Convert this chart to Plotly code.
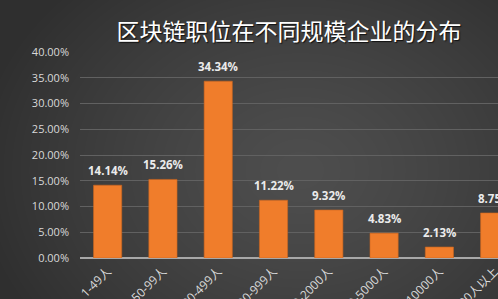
import base64
import struct
import zlib

import numpy as np
import plotly.graph_objects as go

# Company-size buckets and share of blockchain job postings (%)
categories = ["1-49人", "50-99人", "100-499人", "500-999人",
              "1000-2000人", "2000-5000人", "5000-10000人", "10000人以上"]
shares = [14.14, 15.26, 34.34, 11.22, 9.32, 4.83, 2.13, 8.75]
y_ticks = [0, 5, 10, 15, 20, 25, 30, 35, 40]

W, H = 498, 299
ML, MR, MT, MB = 80, 0, 52, 41
PW, PH = W - ML - MR, H - MT - MB


def gray_png_uri(arr):
    """Encode a 2-D uint8 array as a grayscale PNG data URI."""
    h, w = arr.shape
    raw = b"".join(b"\x00" + arr[r].tobytes() for r in range(h))

    def chunk(tag, data):
        c = struct.pack(">I", len(data)) + tag + data
        return c + struct.pack(">I", zlib.crc32(tag + data) & 0xFFFFFFFF)

    png = b"\x89PNG\r\n\x1a\n"
    png += chunk(b"IHDR", struct.pack(">IIBBBBB", w, h, 8, 0, 0, 0, 0))
    png += chunk(b"IDAT", zlib.compress(raw, 9))
    png += chunk(b"IEND", b"")
    return "data:image/png;base64," + base64.b64encode(png).decode()


# soft radial backdrop: lighter toward the middle, darker at the corners
yy, xx = np.mgrid[0:H, 0:W].astype(float)
d = np.sqrt(((xx - 300) / 330) ** 2 + ((yy - 170) / 260) ** 2)
bg = 78 - 31 * np.clip(d, 0, 1) ** 1.3
bg = np.clip(bg, 0, 255).astype(np.uint8)

fig = go.Figure()
fig.add_trace(go.Bar(
    x=categories,
    y=shares,
    marker=dict(color="#F07D2B", line=dict(color="#C9641F", width=0.6)),
    width=0.51,
    hoverinfo="skip",
))

# value labels above each bar
for cat, v in zip(categories, shares):
    fig.add_annotation(
        x=cat, y=v, text=f"{v:.2f}%", showarrow=False,
        yanchor="bottom", yshift=5,
        font=dict(family="Open Sans, Noto Sans CJK SC", size=11.5,
                  color="#EBEBEB", weight="bold"),
    )

fig.add_layout_image(dict(
    source=gray_png_uri(bg),
    xref="paper", yref="paper",
    x=-ML / PW, y=1 + MT / PH,
    sizex=W / PW, sizey=H / PH,
    xanchor="left", yanchor="top",
    sizing="stretch", layer="below",
))

fig.update_layout(
    width=W, height=H,
    margin=dict(l=ML, r=MR, t=MT, b=MB),
    paper_bgcolor="#3A3A3A",
    plot_bgcolor="rgba(0,0,0,0)",
    showlegend=False,
    title=dict(
        text="区块链职位在不同规模企业的分布",
        x=(ML + PW / 2) / W, xanchor="center", xref="container",
        y=1 - 32 / H, yanchor="middle", yref="container",
        font=dict(family="Noto Sans CJK SC", size=23, color="#FFFFFF",
                  shadow="1px 1px 1px #111111"),
    ),
    xaxis=dict(
        type="category",
        range=[-0.5, 7.06],
        tickangle=-45,
        tickfont=dict(family="Open Sans, Noto Sans CJK SC", size=12,
                      color="#D9D9D9"),
        showgrid=False,
        showline=False,
        ticks="",
        ticklabelstandoff=3,
        automargin=False,
    ),
    yaxis=dict(
        range=[0, 40],
        tickvals=y_ticks,
        ticktext=[f"{t:.2f}%" for t in y_ticks],
        tickfont=dict(family="Open Sans, Noto Sans CJK SC", size=11,
                      color="#D9D9D9"),
        showgrid=True,
        gridcolor="#616161",
        gridwidth=1,
        zeroline=True,
        zerolinecolor="#A8A8A8",
        zerolinewidth=1.5,
        ticks="",
        ticklabelstandoff=10,
        automargin=False,
    ),
)

fig.write_html("out.html")
